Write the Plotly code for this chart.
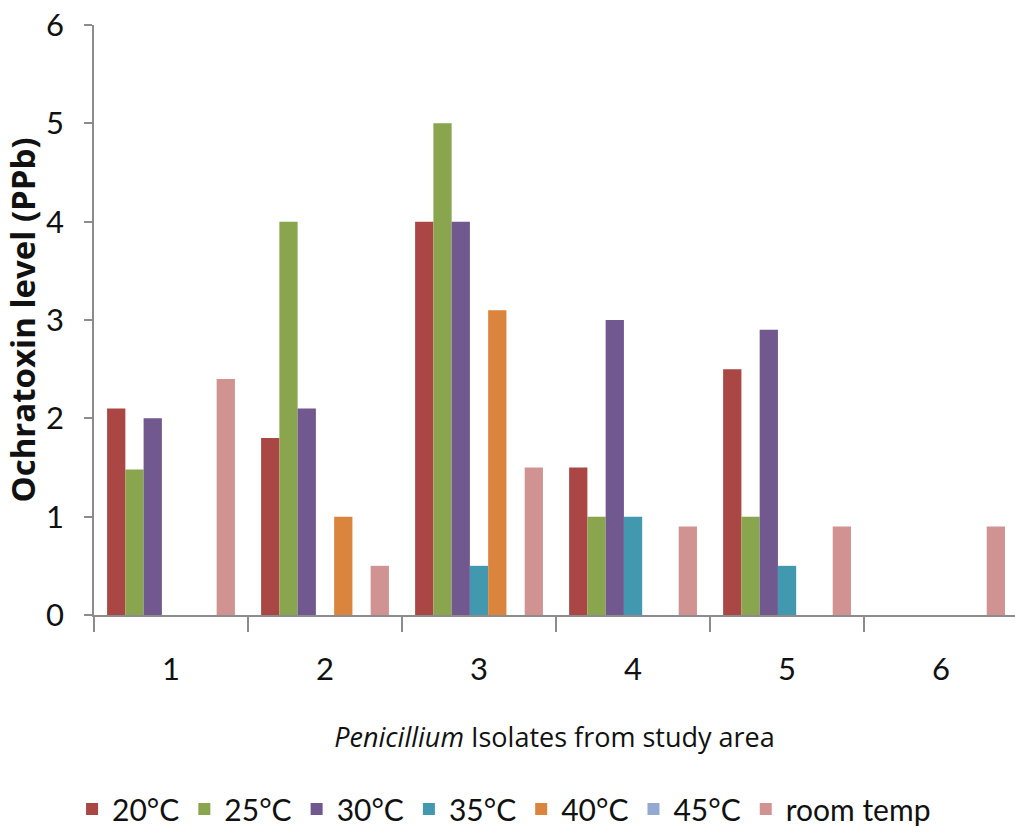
import plotly.graph_objects as go

categories = ["1", "2", "3", "4", "5", "6"]
series_names = ["20°C", "25°C", "30°C", "35°C", "40°C", "45°C", "room temp"]
v20 = [2.1, 1.8, 4.0, 1.5, 2.5, 0]
v25 = [1.48, 4.0, 5.0, 1.0, 1.0, 0]
v30 = [2.0, 2.1, 4.0, 3.0, 2.9, 0]
v35 = [0, 0, 0.5, 1.0, 0.5, 0]
v40 = [0, 1.0, 3.1, 0, 0, 0]
v45 = [0, 0, 0, 0, 0, 0]
vroom = [2.4, 0.5, 1.5, 0.9, 0.9, 0.9]
colors = ["#AA4643", "#89A54E", "#71588F", "#4198AF", "#DB843D", "#93A9CF", "#D19392"]

values = [v20, v25, v30, v35, v40, v45, vroom]

fig = go.Figure()
for name, vals, col in zip(series_names, values, colors):
    fig.add_trace(go.Bar(x=categories, y=vals, name=name, marker=dict(color=col, line=dict(width=0))))

narrow = "Lato, sans-serif"
fig.update_layout(
    width=1015, height=835,
    margin=dict(l=94, r=0, t=25, b=220),
    paper_bgcolor="white", plot_bgcolor="white",
    barmode="group", bargap=0.17, bargroupgap=0,
    showlegend=True,
    legend=dict(orientation="h", xref="container", yref="container", x=0.071, y=0.0,
                xanchor="left", yanchor="bottom",
                font=dict(family=narrow, size=30, color="#111"),
                itemsizing="constant", traceorder="normal"),
    xaxis=dict(type="category", range=[-0.5, 5.48], showline=True, linecolor="#8c8c8c", linewidth=1.5,
               ticks="outside", tickson="boundaries", ticklen=15, tickcolor="#8c8c8c", tickwidth=1.5,
               showgrid=False, tickfont=dict(family=narrow, size=31, color="#111"),
               ticklabelstandoff=26,
               title=dict(text="<i>Penicillium</i> Isolates from study area",
                          font=dict(family="Open Sans, sans-serif", size=27, color="#111"), standoff=42)),
    yaxis=dict(range=[0, 6], dtick=1, showline=True, linecolor="#8c8c8c", linewidth=1.5,
               ticks="outside", ticklen=8, tickcolor="#8c8c8c", tickwidth=1.5, showgrid=False,
               zeroline=False, tickfont=dict(family=narrow, size=31, color="#111"),
               ticklabelstandoff=14,
               title=dict(text="<b>Ochratoxin level (PPb)</b>",
                          font=dict(family="Open Sans, sans-serif", size=33, color="#111"), standoff=5)),
)

fig.write_html("out.html")
